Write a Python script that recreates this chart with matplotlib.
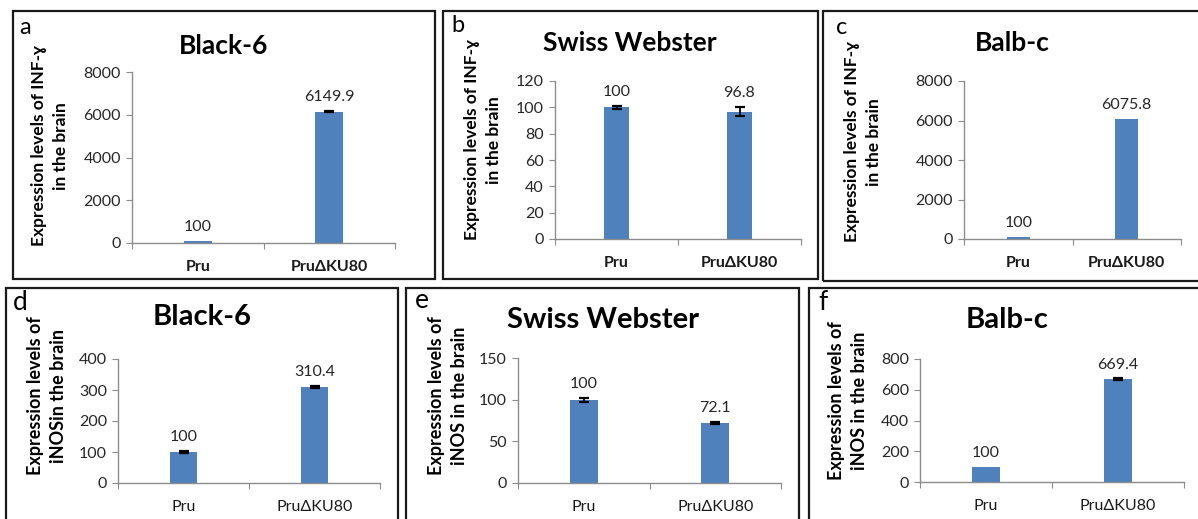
import numpy as np
import matplotlib
matplotlib.use("Agg")
import matplotlib.pyplot as plt
from matplotlib.patches import Rectangle

plt.rcParams.update({
    'font.family': ['Lato', 'DejaVu Sans'],
    'axes.linewidth': 1.0,
    'axes.edgecolor': '#8c8c8c',
    'xtick.color': '#8c8c8c',
    'ytick.color': '#8c8c8c',
    'xtick.labelcolor': '#262626',
    'ytick.labelcolor': '#262626',
})

W, H = 1198, 519
BAR = '#4f81bd'

strains = ['Pru', 'Pru\u0394KU80']

# INF-gamma (top row) and iNOS (bottom row) expression, relative to Pru = 100
ifn_b6 = [100, 6149.9]
ifn_b6_err = [0, 30]
ifn_sw = [100, 96.8]
ifn_sw_err = [1.2, 3.5]
ifn_balb = [100, 6075.8]
ifn_balb_err = [0, 0]
inos_b6 = [100, 310.4]
inos_b6_err = [2, 3]
inos_sw = [100, 72.1]
inos_sw_err = [2.5, 1.5]
inos_balb = [100, 669.4]
inos_balb_err = [0, 4]

ylims = [(8000, 2000), (120, 20), (8000, 2000), (400, 100), (150, 50), (800, 200)]
titles = ['Black-6', 'Swiss Webster', 'Balb-c', 'Black-6', 'Swiss Webster', 'Balb-c']
letters = ['a', 'b', 'c', 'd', 'e', 'f']
ylabels = ['Expression levels of INF-\u0263\nin the brain'] * 3 + \
          ['Expression levels of\niNOSin the brain',
           'Expression levels of\niNOS in the brain',
           'Expression levels of\niNOS in the brain']
values = [ifn_b6, ifn_sw, ifn_balb, inos_b6, inos_sw, inos_balb]
errors = [ifn_b6_err, ifn_sw_err, ifn_balb_err, inos_b6_err, inos_sw_err, inos_balb_err]

# pixel layout: frame box, plot area, title, letter, y label centre
boxes = [(13, 11, 435, 279), (443, 11, 818, 279), (823, 11, 1205, 281),
         (6, 288, 398, 530), (406, 288, 799, 530), (809, 288, 1205, 530)]
plots = [(132, 72, 395, 243), (555, 81, 801, 239), (964, 81, 1181, 239),
         (118, 359, 380, 483), (518, 358, 781, 483), (920, 359, 1184, 482)]
title_pos = [(224, 46), (630, 43), (1012, 43), (202, 317), (603, 320), (1007, 320)]
letter_pos = [(25, 28), (458, 26), (842, 28), (20, 302), (422, 300), (823, 302)]
ylabel_pos = [(50, 146), (483, 140), (863, 142), (47, 396), (448, 396), (848, 401)]

fig = plt.figure(figsize=(W / 100, H / 100), dpi=100)

for i in range(6):
    top_row = i < 3
    x0, y0, x1, y1 = boxes[i]
    fig.add_artist(Rectangle((x0 / W, 1 - y1 / H), (x1 - x0) / W, (y1 - y0) / H,
                             transform=fig.transFigure, fill=False,
                             edgecolor='#1a1a1a', linewidth=1.6, clip_on=False))

    px0, py0, px1, py1 = plots[i]
    ax = fig.add_axes([px0 / W, 1 - py1 / H, (px1 - px0) / W, (py1 - py0) / H])
    x = np.arange(len(strains))
    err = np.array(errors[i], dtype=float)
    ax.bar(x, values[i], width=0.21, color=BAR, zorder=2)
    has_err = err > 0
    if has_err.any():
        ax.errorbar(x[has_err], np.array(values[i])[has_err], yerr=err[has_err],
                    fmt='none', ecolor='black', elinewidth=1.3, capsize=3.5,
                    capthick=1.6, zorder=3)
    for xi, v, e in zip(x, values[i], err):
        ax.annotate(f'{v:g}', (xi, v + e), xytext=(0, 5), textcoords='offset points',
                    ha='center', va='bottom', fontsize=11.5, color='#262626')

    ymax, step = ylims[i]
    ax.set_ylim(0, ymax)
    ax.set_yticks(np.arange(0, ymax + step / 2, step))
    ax.set_xlim(-0.5, 1.5)
    ax.set_xticks([-0.5, 0.5, 1.5])
    ax.set_xticklabels([])
    ax.set_xticks(x, minor=True)
    ax.set_xticklabels(strains, minor=True, fontsize=11.5,
                       fontweight='bold' if top_row else 'normal', color='#1a1a1a')
    ax.tick_params(axis='x', which='major', length=4, direction='out')
    ax.tick_params(axis='x', which='minor', length=0, pad=12)
    ax.tick_params(axis='y', length=4, direction='out', labelsize=11.5, pad=4)
    for s in ['top', 'right']:
        ax.spines[s].set_visible(False)

    tx, ty = title_pos[i]
    fig.text(tx / W, 1 - ty / H, titles[i], ha='center', va='center',
             fontsize=19 if top_row else 21, fontweight='bold', color='black')
    lx, ly = letter_pos[i]
    fig.text(lx / W, 1 - ly / H, letters[i], ha='center', va='center',
             fontsize=17 if top_row else 19, color='black')
    yx, yy = ylabel_pos[i]
    fig.text(yx / W, 1 - yy / H, ylabels[i], ha='center', va='center', rotation=90,
             multialignment='center', fontsize=12.5 if top_row else 13,
             fontweight='bold', linespacing=1.4, color='black')

fig.savefig('out.png', dpi=100)
